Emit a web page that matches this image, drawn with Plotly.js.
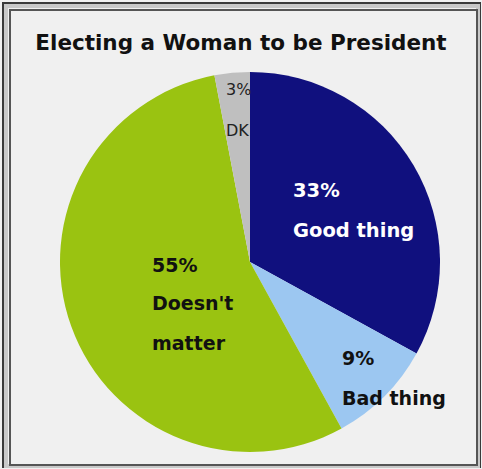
<!DOCTYPE html>
<html>
<head>
<meta charset="utf-8">
<script src="https://cdn.plot.ly/plotly-3.0.1.min.js"></script>
<style>
html,body{margin:0;padding:0;background:#f0f0f0;}
#chart{width:482px;height:469px;}
</style>
</head>
<body>
<div id="chart"></div>
<script>
// Data
const categories = ["Good thing", "Bad thing", "Doesn't matter", "DK"];
const values = [33, 9, 55, 3];
const sliceColors = ["#10107e", "#9cc7f1", "#9ac311", "#bfbfbf"];
const titleText = "Electing a Woman to be President";

// Label layout (pixel anchors, left-aligned), per category
const W = 482, H = 469;
const labelPos = [
  {x: 291, y: [190, 230], color: "#ffffff", bold: true, size: 19.5},
  {x: 340, y: [358, 398], color: "#111111", bold: true, size: 19},
  {x: 150, y: [265, 303, 343], color: "#111111", bold: true, size: 19},
  {x: 224, y: [90, 130], color: "#222222", bold: false, size: 16}
];
function lines(i) {
  const name = categories[i];
  if (name === "Doesn't matter") return [values[i] + "%", "Doesn't", "matter"];
  return [values[i] + "%", name];
}
const px = x => x / W;
const py = y => (H - y) / H;

const annotations = [];
categories.forEach((c, i) => {
  const lp = labelPos[i];
  lines(i).forEach((t, j) => {
    annotations.push({
      xref: "paper", yref: "paper", x: px(lp.x), y: py(lp.y[j]),
      xanchor: "left", yanchor: "middle", showarrow: false,
      text: lp.bold ? "<b>" + t + "</b>" : t,
      font: {family: "DejaVu Sans", size: lp.size, color: lp.color}
    });
  });
});

const cx = 250, cy = 262, r = 190;
const trace = {
  type: "pie",
  labels: categories,
  values: values,
  sort: false,
  direction: "clockwise",
  rotation: 0,
  marker: {colors: sliceColors, line: {width: 0}},
  textinfo: "none",
  hoverinfo: "label+percent",
  showlegend: false,
  domain: {x: [px(cx - r), px(cx + r)], y: [py(cy + r), py(cy - r)]}
};

const shapes = [
  {type: "rect", xref: "paper", yref: "paper", x0: px(3), x1: px(480), y0: py(467), y1: py(3),
   line: {color: "#3a3a3a", width: 2}, fillcolor: "rgba(0,0,0,0)", layer: "below"},
  {type: "rect", xref: "paper", yref: "paper", x0: px(6), x1: px(478), y0: py(466), y1: py(6),
   line: {color: "#c8c8c8", width: 4}, fillcolor: "rgba(0,0,0,0)", layer: "below"},
  {type: "rect", xref: "paper", yref: "paper", x0: px(10), x1: px(477), y0: py(465), y1: py(10),
   line: {color: "#555555", width: 2}, fillcolor: "rgba(0,0,0,0)", layer: "below"}
];

const layout = {
  width: W, height: H,
  margin: {l: 0, r: 0, t: 0, b: 0},
  paper_bgcolor: "#f0f0f0",
  plot_bgcolor: "#f0f0f0",
  title: {
    text: "<b>" + titleText + "</b>",
    x: 0.5, xanchor: "center", xref: "paper",
    y: py(42), yanchor: "middle", yref: "paper",
    font: {family: "DejaVu Sans", size: 21.5, color: "#111111"}
  },
  annotations: annotations,
  shapes: shapes
};

Plotly.newPlot("chart", [trace], layout, {displayModeBar: false, staticPlot: true});
</script>
</body>
</html>
